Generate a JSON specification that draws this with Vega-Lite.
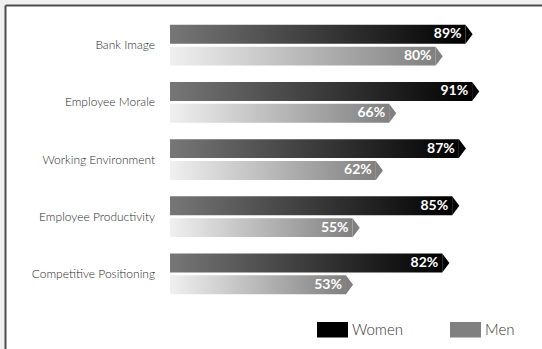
{
  "$schema": "https://vega.github.io/schema/vega-lite/v6.json",
  "width": 537,
  "height": 344,
  "autosize": {"type": "none"},
  "padding": {"left": 5, "top": 5, "right": 0, "bottom": 0},
  "background": "#f0f0f0",
  "config": {"view": {"fill": "white", "stroke": null}, "font": "Lato"},
  "data": {
    "values": [
      {"category": "Bank Image", "gender": "Women", "value": 89, "label": "89%"},
      {"category": "Bank Image", "gender": "Men", "value": 80, "label": "80%"},
      {"category": "Employee Morale", "gender": "Women", "value": 91, "label": "91%"},
      {"category": "Employee Morale", "gender": "Men", "value": 66, "label": "66%"},
      {"category": "Working Environment", "gender": "Women", "value": 87, "label": "87%"},
      {"category": "Working Environment", "gender": "Men", "value": 62, "label": "62%"},
      {"category": "Employee Productivity", "gender": "Women", "value": 85, "label": "85%"},
      {"category": "Employee Productivity", "gender": "Men", "value": 55, "label": "55%"},
      {"category": "Competitive Positioning", "gender": "Women", "value": 82, "label": "82%"},
      {"category": "Competitive Positioning", "gender": "Men", "value": 53, "label": "53%"}
    ]
  },
  "encoding": {
    "y": {
      "field": "category",
      "type": "nominal",
      "sort": ["Bank Image", "Employee Morale", "Working Environment", "Employee Productivity", "Competitive Positioning"],
      "scale": {"paddingInner": 0, "paddingOuter": 0.5087, "align": 0.2},
      "axis": {"labels": false, "ticks": false, "domain": true, "domainColor": "#4d4d4d", "domainWidth": 2, "title": null, "grid": false}
    },
    "x": {
      "field": "value",
      "type": "quantitative",
      "scale": {"domain": [-49.7, 112.05], "nice": false, "zero": false},
      "axis": {"orient": "top", "labels": false, "ticks": false, "domain": true, "domainColor": "#4d4d4d", "domainWidth": 2, "title": null, "grid": false}
    }
  },
  "layer": [
    {
      "transform": [{"filter": "datum.gender === 'Women'"}],
      "mark": {"type": "bar", "color": {"gradient": "linear", "stops": [{"offset": 0, "color": "#777777"}, {"offset": 1, "color": "#000000"}]}},
      "encoding": {
        "x2": {"datum": 0},
        "yOffset": {"field": "gender", "type": "nominal", "scale": {"domain": ["Women", "Men"], "paddingInner": 0.136, "paddingOuter": 0.375}}
      }
    },
    {
      "transform": [{"filter": "datum.gender === 'Men'"}],
      "mark": {"type": "bar", "color": {"gradient": "linear", "stops": [{"offset": 0, "color": "#f0f0f0"}, {"offset": 1, "color": "#808080"}]}},
      "encoding": {
        "x2": {"datum": 0},
        "yOffset": {"field": "gender", "type": "nominal", "scale": {"domain": ["Women", "Men"], "paddingInner": 0.136, "paddingOuter": 0.375}}
      }
    },
    {
      "mark": {"type": "point", "shape": "M0,-1L0.75,0L0,1Z", "size": 361, "filled": true, "opacity": 1, "strokeWidth": 0},
      "encoding": {
        "yOffset": {"field": "gender", "type": "nominal", "scale": {"domain": ["Women", "Men"], "paddingInner": 0.136, "paddingOuter": 0.375}},
        "color": {
          "field": "gender",
          "type": "nominal",
          "scale": {"domain": ["Women", "Men"], "range": ["#000000", "#808080"]},
          "legend": {
            "title": null,
            "orient": "none",
            "legendX": 312,
            "legendY": 309,
            "direction": "horizontal",
            "symbolType": "M-1,-0.5L1,-0.5L1,0.5L-1,0.5Z",
            "symbolSize": 961,
            "symbolOpacity": 1,
            "symbolStrokeWidth": 0,
            "labelFontSize": 15,
            "labelColor": "#333333",
            "labelFont": "Lato",
            "labelFontWeight": 300,
            "labelOffset": 4,
            "columnPadding": 46,
            "padding": 0
          }
        }
      }
    },
    {
      "mark": {"type": "text", "align": "right", "baseline": "middle", "dx": -4, "color": "white", "fontWeight": "bold", "fontSize": 14, "font": "Lato"},
      "encoding": {
        "yOffset": {"field": "gender", "type": "nominal", "scale": {"domain": ["Women", "Men"], "paddingInner": 0.136, "paddingOuter": 0.375}},
        "text": {"field": "label"}
      }
    },
    {
      "transform": [{"filter": "datum.gender === 'Women'"}],
      "mark": {"type": "text", "align": "right", "baseline": "middle", "fontSize": 12, "fontWeight": 300, "color": "#2a2a2a", "font": "Lato"},
      "encoding": {
        "x": {"datum": -4.5},
        "text": {"field": "category"}
      }
    }
  ]
}
